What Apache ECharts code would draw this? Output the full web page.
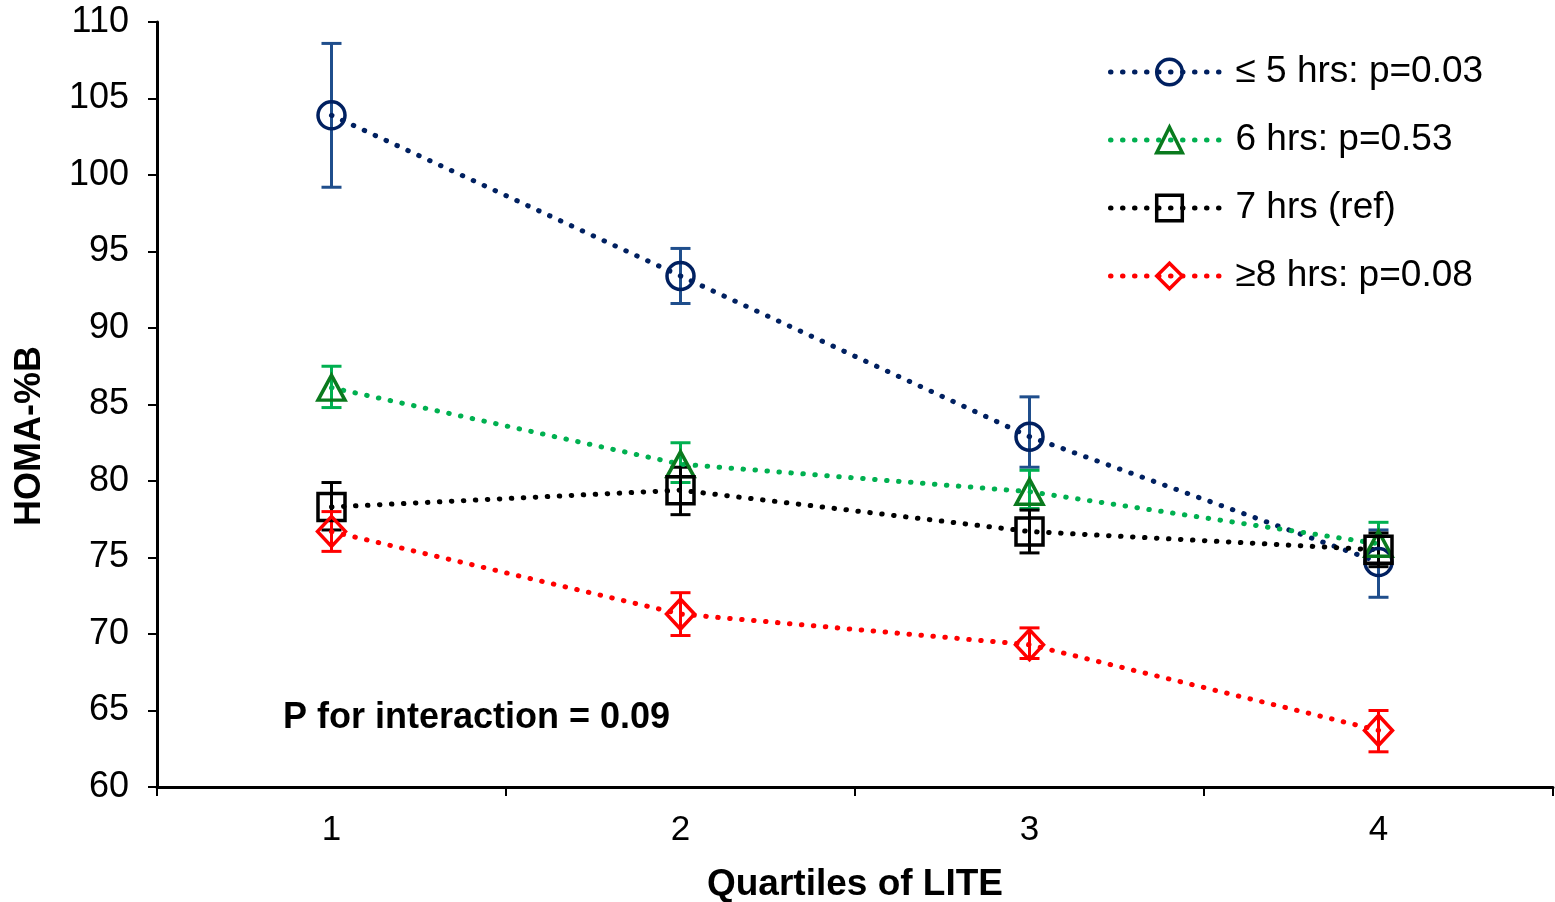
<!DOCTYPE html>
<html>
<head>
<meta charset="utf-8">
<script src="https://cdn.jsdelivr.net/npm/echarts@6/dist/echarts.min.js"></script>
<style>
html,body{margin:0;padding:0;background:#fff;}
#chart{width:1555px;height:902px;}
</style>
</head>
<body>
<div id="chart"></div>
<script>
const categories = ['1', '2', '3', '4'];
const yTicks = [60, 110, 5];

const seriesNames = ['\u2264 5 hrs: p=0.03', '6 hrs: p=0.53', '7 hrs (ref)', '\u22658 hrs: p=0.08'];

const le5Values = [103.9, 93.4, 82.9, 74.7];
const le5Lower  = [99.2, 91.6, 80.9, 72.4];
const le5Upper  = [108.6, 95.2, 85.5, 76.8];

const h6Values = [86.1, 81.1, 79.3, 75.9];
const h6Lower  = [84.8, 79.9, 78.2, 74.6];
const h6Upper  = [87.5, 82.5, 80.7, 77.3];

const h7Values = [78.3, 79.4, 76.7, 75.5];
const h7Lower  = [76.8, 77.8, 75.3, 74.4];
const h7Upper  = [79.9, 80.9, 78.1, 76.6];

const ge8Values = [76.7, 71.3, 69.3, 63.7];
const ge8Lower  = [75.4, 69.9, 68.4, 62.3];
const ge8Upper  = [78.0, 72.7, 70.4, 65.0];

const annotation = 'P for interaction = 0.09';
const xTitle = 'Quartiles of LITE';
const yTitle = 'HOMA-%B';

const styles = [
  {line:'#002060', marker:'#002060', err:'#1F4E8C', symbol:'circle'},
  {line:'#00B050', marker:'#0A7A1E', err:'#00B050', symbol:'triangle'},
  {line:'#000000', marker:'#000000', err:'#000000', symbol:'rect'},
  {line:'#FF0000', marker:'#FF0000', err:'#FF0000', symbol:'diamond'}
];
const allValues = [le5Values, h6Values, h7Values, ge8Values];
const allLower = [le5Lower, h6Lower, h7Lower, ge8Lower];
const allUpper = [le5Upper, h6Upper, h7Upper, ge8Upper];

function errRenderer(color) {
  return function (params, api) {
    const x = api.value(0);
    const top = api.coord([x, api.value(2)]);
    const bot = api.coord([x, api.value(1)]);
    const w = 10;
    const st = {stroke: color, lineWidth: 3};
    return {type: 'group', children: [
      {type: 'line', shape: {x1: top[0], y1: top[1], x2: bot[0], y2: bot[1]}, style: st},
      {type: 'line', shape: {x1: top[0]-w, y1: top[1], x2: top[0]+w, y2: top[1]}, style: st},
      {type: 'line', shape: {x1: bot[0]-w, y1: bot[1], x2: bot[0]+w, y2: bot[1]}, style: st}
    ]};
  };
}

const dotted = [0.5, 11.5];
const series = [];
styles.forEach(function (s, i) {
  series.push({
    type: 'custom',
    name: 'err' + i,
    renderItem: errRenderer(s.err),
    data: categories.map(function (c, j) { return [j, allLower[i][j], allUpper[i][j]]; }),
    z: 1,
    silent: true
  });
});
styles.forEach(function (s, i) {
  series.push({
    type: 'line',
    name: seriesNames[i],
    data: allValues[i],
    symbol: s.symbol,
    symbolSize: s.symbol === 'triangle' ? [27, 25] : (s.symbol === 'diamond' ? [28, 30] : 27),
    showSymbol: true,
    lineStyle: {color: s.line, width: 5, type: dotted, cap: 'round'},
    itemStyle: {color: 'rgba(255,255,255,0)', borderColor: s.marker, borderWidth: 3.5},
    z: 2,
    animation: false
  });
});

const legendData = seriesNames.map(function (n, i) {
  return {
    name: n,
    lineStyle: {color: styles[i].line, width: 5, type: dotted, cap: 'round'},
    itemStyle: {color: 'rgba(255,255,255,0)', borderColor: styles[i].marker, borderWidth: 3.5}
  };
});

const chart = echarts.init(document.getElementById('chart'));
chart.setOption({
  animation: false,
  backgroundColor: '#ffffff',
  grid: {left: 157, right: 2, top: 22, bottom: 115},
  legend: {
    orient: 'vertical',
    left: 1103,
    top: 47,
    itemWidth: 118,
    itemHeight: 32,
    itemGap: 28,
    data: legendData,
    textStyle: {fontFamily: 'Liberation Sans', fontSize: 37, color: '#000', lineHeight: 40, padding: [0, 0, 0, 2]}
  },
  xAxis: {
    type: 'category',
    data: categories,
    boundaryGap: true,
    axisLine: {lineStyle: {color: '#000', width: 3}},
    axisTick: {show: true, length: 9, lineStyle: {color: '#000', width: 2}},
    axisLabel: {fontFamily: 'Liberation Sans', fontSize: 35, color: '#000', margin: 26},
    splitLine: {show: false}
  },
  yAxis: {
    type: 'value',
    min: yTicks[0], max: yTicks[1], interval: yTicks[2],
    axisLine: {show: true, lineStyle: {color: '#000', width: 3}},
    axisTick: {show: true, length: 9, lineStyle: {color: '#000', width: 2}},
    axisLabel: {fontFamily: 'Liberation Sans', fontSize: 36, color: '#000', margin: 28},
    splitLine: {show: false}
  },
  graphic: [
    {type: 'text', x: 283, y: 718, style: {text: annotation, font: 'bold 36px "Liberation Sans"', fill: '#000', textVerticalAlign: 'middle'}},
    {type: 'text', x: 855, y: 885, style: {text: xTitle, font: 'bold 37px "Liberation Sans"', fill: '#000', textAlign: 'center', textVerticalAlign: 'middle'}},
    {type: 'text', x: 30, y: 436, rotation: Math.PI/2, style: {text: yTitle, font: 'bold 36px "Liberation Sans"', fill: '#000', textAlign: 'center', textVerticalAlign: 'middle'}}
  ],
  series: series
});
</script>
</body>
</html>
